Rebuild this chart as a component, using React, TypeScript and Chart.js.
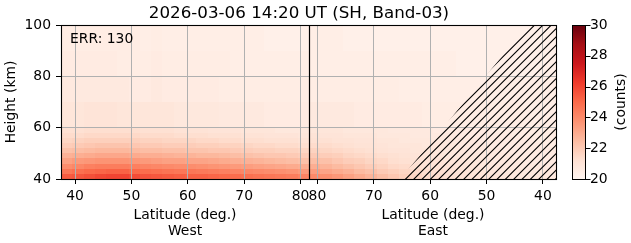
import React, { useEffect, useRef } from "react";
import { Chart, registerables } from "chart.js";

Chart.register(...registerables);

// ---------- text ----------
const titleText = "2026-03-06 14:20 UT (SH, Band-03)";
const errText = "ERR: 130";
const xAxisLabel = "Latitude (deg.)";
const westLabel = "West";
const eastLabel = "East";
const yAxisLabel = "Height (km)";
const colorbarLabel = "(counts)";

// ---------- axes ----------
const WEST_MIN_LAT = 37.5; // left edge of West panel
const POLE_LAT = 81.5; // West/East junction
const EAST_MIN_LAT = 37.5; // right edge of East panel
const LAT_STEP = 2;
const westTickLabels = [40, 50, 60, 70, 80];
const eastTickLabels = [80, 70, 60, 50, 40];
const heightTicks = [40, 60, 80, 100];
const colorbarTicks = [20, 22, 24, 26, 28, 30];
const COUNT_MIN = 20;
const COUNT_MAX = 30;

// ---------- data (rows from bottom to top) ----------
const heightEdges = [40, 42, 44, 46, 48, 50, 52, 54, 56, 58, 60, 70, 80, 90, 100];
const westLatitudes = [38.5, 40.5, 42.5, 44.5, 46.5, 48.5, 50.5, 52.5, 54.5, 56.5, 58.5, 60.5, 62.5, 64.5, 66.5, 68.5, 70.5, 72.5, 74.5, 76.5, 78.5, 80.5];
const eastLatitudes = [80.5, 78.5, 76.5, 74.5, 72.5, 70.5, 68.5, 66.5, 64.5, 62.5, 60.5, 58.5, 56.5, 54.5, 52.5, 50.5, 48.5, 46.5, 44.5, 42.5, 40.5, 38.5];

const westCounts = [
  [25.4, 25.5, 25.7, 25.9, 26.0, 26.0, 25.8, 25.6, 25.5, 25.4, 25.3, 25.2, 25.2, 25.1, 25.0, 24.9, 24.8, 24.7, 24.6, 24.5, 24.4, 24.2],
  [24.6, 24.8, 25.0, 25.1, 25.2, 25.2, 25.0, 24.9, 24.8, 24.7, 24.6, 24.6, 24.5, 24.4, 24.3, 24.2, 24.1, 24.0, 23.9, 23.8, 23.7, 23.5],
  [23.9, 24.1, 24.3, 24.4, 24.4, 24.4, 24.3, 24.2, 24.1, 24.0, 23.9, 23.9, 23.8, 23.7, 23.6, 23.5, 23.4, 23.3, 23.2, 23.1, 23.0, 22.9],
  [23.3, 23.5, 23.6, 23.7, 23.7, 23.7, 23.6, 23.5, 23.4, 23.3, 23.3, 23.2, 23.2, 23.1, 23.0, 22.9, 22.8, 22.7, 22.6, 22.5, 22.4, 22.3],
  [22.8, 22.9, 23.0, 23.1, 23.1, 23.1, 23.0, 22.9, 22.9, 22.8, 22.7, 22.7, 22.6, 22.6, 22.5, 22.4, 22.3, 22.2, 22.1, 22.1, 22.0, 21.9],
  [22.3, 22.4, 22.5, 22.6, 22.6, 22.6, 22.5, 22.4, 22.4, 22.3, 22.3, 22.2, 22.2, 22.1, 22.1, 22.0, 21.9, 21.8, 21.8, 21.7, 21.7, 21.6],
  [21.9, 22.0, 22.1, 22.2, 22.2, 22.2, 22.1, 22.0, 22.0, 21.9, 21.9, 21.9, 21.8, 21.8, 21.7, 21.7, 21.6, 21.5, 21.5, 21.4, 21.4, 21.3],
  [21.6, 21.7, 21.8, 21.8, 21.8, 21.8, 21.8, 21.7, 21.7, 21.6, 21.6, 21.6, 21.5, 21.5, 21.4, 21.4, 21.3, 21.3, 21.2, 21.2, 21.2, 21.1],
  [21.4, 21.4, 21.5, 21.5, 21.5, 21.5, 21.5, 21.4, 21.4, 21.4, 21.3, 21.3, 21.3, 21.2, 21.2, 21.2, 21.1, 21.1, 21.0, 21.0, 21.0, 20.9],
  [21.2, 21.2, 21.3, 21.3, 21.3, 21.3, 21.3, 21.2, 21.2, 21.2, 21.1, 21.1, 21.1, 21.0, 21.0, 21.0, 20.9, 20.9, 20.9, 20.8, 20.8, 20.8],
  [20.9, 20.9, 21.0, 21.0, 21.0, 20.9, 20.9, 20.9, 20.9, 20.9, 20.8, 20.8, 20.8, 20.8, 20.7, 20.7, 20.7, 20.7, 20.6, 20.6, 20.6, 20.6],
  [20.7, 20.7, 20.7, 20.7, 20.7, 20.7, 20.6, 20.6, 20.7, 20.6, 20.6, 20.6, 20.6, 20.6, 20.5, 20.5, 20.5, 20.5, 20.5, 20.5, 20.5, 20.5],
  [20.6, 20.6, 20.6, 20.6, 20.6, 20.5, 20.5, 20.5, 20.6, 20.5, 20.5, 20.5, 20.5, 20.5, 20.5, 20.4, 20.4, 20.4, 20.4, 20.4, 20.4, 20.4],
  [20.5, 20.5, 20.5, 20.5, 20.5, 20.5, 20.5, 20.4, 20.5, 20.4, 20.4, 20.4, 20.4, 20.4, 20.4, 20.4, 20.4, 20.4, 20.3, 20.3, 20.3, 20.3],
];

const eastCounts = [
  [24.0, 23.8, 23.6, 23.3, 23.0, 22.7, 22.4, 22.1, 21.8, 21.6, 21.4, 21.3, 21.2, 21.1, 21.0, 21.0, 20.9, 20.9, 20.8, 20.8, 20.8, 20.7],
  [23.4, 23.2, 23.0, 22.8, 22.5, 22.3, 22.0, 21.8, 21.6, 21.4, 21.3, 21.2, 21.1, 21.0, 20.9, 20.9, 20.8, 20.8, 20.8, 20.7, 20.7, 20.7],
  [22.9, 22.7, 22.5, 22.3, 22.1, 21.9, 21.7, 21.5, 21.4, 21.2, 21.1, 21.0, 21.0, 20.9, 20.9, 20.8, 20.8, 20.7, 20.7, 20.7, 20.7, 20.6],
  [22.4, 22.3, 22.1, 21.9, 21.8, 21.6, 21.5, 21.3, 21.2, 21.1, 21.0, 21.0, 20.9, 20.9, 20.8, 20.8, 20.7, 20.7, 20.7, 20.6, 20.6, 20.6],
  [22.0, 21.9, 21.8, 21.6, 21.5, 21.4, 21.3, 21.2, 21.1, 21.0, 20.9, 20.9, 20.8, 20.8, 20.8, 20.7, 20.7, 20.7, 20.6, 20.6, 20.6, 20.6],
  [21.7, 21.6, 21.5, 21.4, 21.3, 21.2, 21.1, 21.0, 21.0, 20.9, 20.9, 20.8, 20.8, 20.8, 20.7, 20.7, 20.7, 20.6, 20.6, 20.6, 20.6, 20.6],
  [21.4, 21.4, 21.3, 21.2, 21.1, 21.1, 21.0, 20.9, 20.9, 20.9, 20.8, 20.8, 20.8, 20.7, 20.7, 20.7, 20.6, 20.6, 20.6, 20.6, 20.6, 20.5],
  [21.2, 21.2, 21.1, 21.1, 21.0, 21.0, 20.9, 20.9, 20.8, 20.8, 20.8, 20.7, 20.7, 20.7, 20.7, 20.6, 20.6, 20.6, 20.6, 20.6, 20.5, 20.5],
  [21.1, 21.0, 21.0, 20.9, 20.9, 20.9, 20.8, 20.8, 20.8, 20.7, 20.7, 20.7, 20.7, 20.6, 20.6, 20.6, 20.6, 20.6, 20.5, 20.5, 20.5, 20.5],
  [20.9, 20.9, 20.9, 20.8, 20.8, 20.8, 20.8, 20.7, 20.7, 20.7, 20.7, 20.6, 20.6, 20.6, 20.6, 20.6, 20.5, 20.5, 20.5, 20.5, 20.5, 20.5],
  [20.7, 20.7, 20.7, 20.7, 20.6, 20.6, 20.6, 20.6, 20.6, 20.6, 20.5, 20.5, 20.5, 20.5, 20.5, 20.5, 20.5, 20.5, 20.5, 20.4, 20.4, 20.4],
  [20.5, 20.5, 20.5, 20.5, 20.5, 20.5, 20.5, 20.5, 20.4, 20.4, 20.4, 20.4, 20.4, 20.4, 20.4, 20.4, 20.4, 20.4, 20.4, 20.4, 20.4, 20.4],
  [20.4, 20.4, 20.4, 20.4, 20.4, 20.4, 20.4, 20.4, 20.4, 20.4, 20.4, 20.4, 20.4, 20.3, 20.3, 20.3, 20.3, 20.3, 20.3, 20.3, 20.3, 20.3],
  [20.4, 20.4, 20.4, 20.3, 20.3, 20.3, 20.3, 20.3, 20.3, 20.3, 20.3, 20.3, 20.3, 20.3, 20.3, 20.3, 20.3, 20.3, 20.3, 20.3, 20.3, 20.3],
];

// boundary of the hatched (invalid) region on the East side
const hatchBoundaryLat = [65.3, 57.7, 50.2, 42.6];
const hatchBoundaryHeight = [40, 60, 80, 100];

// ---------- helpers ----------
const westU = (lat: number) => lat - WEST_MIN_LAT;
const eastU = (lat: number) => (POLE_LAT - WEST_MIN_LAT) + (POLE_LAT - lat);
const U_MAX = eastU(EAST_MIN_LAT);
const U_POLE = westU(POLE_LAT);

const REDS = [
  [255, 245, 240], [254, 224, 210], [252, 187, 161], [252, 146, 114],
  [251, 106, 74], [239, 59, 44], [203, 24, 29], [165, 15, 21], [103, 0, 13],
];
function redsColor(t: number): string {
  const tt = Math.max(0, Math.min(1, t)) * (REDS.length - 1);
  const i = Math.min(REDS.length - 2, Math.floor(tt));
  const f = tt - i;
  const a = REDS[i], b = REDS[i + 1];
  const c = a.map((v, k) => Math.round(v + (b[k] - v) * f));
  return `rgb(${c[0]},${c[1]},${c[2]})`;
}

const FONT = "'DejaVu Sans', sans-serif";
const FS = 13.9;

const xTickValues = [...westTickLabels.map(westU), ...eastTickLabels.map(eastU)];
const xTickText = [...westTickLabels, ...eastTickLabels].map(String);

const heatPlugin = {
  id: "heatmapPlugin",
  beforeDraw(chart: any) {
    const { ctx, scales } = chart;
    const x = scales.x, y = scales.y;
    ctx.save();
    ctx.fillStyle = "#ffffff";
    ctx.fillRect(0, 0, chart.width, chart.height);
    const drawSide = (lats: number[], rows: number[][], toU: (l: number) => number) => {
      rows.forEach((row, r) => {
        const T = Math.round(y.getPixelForValue(heightEdges[r + 1]));
        const B = Math.round(y.getPixelForValue(heightEdges[r]));
        row.forEach((v, c) => {
          const u = toU(lats[c]);
          const xa = x.getPixelForValue(u - LAT_STEP / 2);
          const xb = x.getPixelForValue(u + LAT_STEP / 2);
          const L = Math.round(Math.min(xa, xb));
          const R = Math.round(Math.max(xa, xb));
          ctx.fillStyle = redsColor((v - COUNT_MIN) / (COUNT_MAX - COUNT_MIN));
          ctx.fillRect(L, T, R - L, B - T);
        });
      });
    };
    drawSide(westLatitudes, westCounts, westU);
    drawSide(eastLatitudes, eastCounts, eastU);
    ctx.restore();
  },
  afterDraw(chart: any) {
    const { ctx, chartArea, scales } = chart;
    const x = scales.x, y = scales.y, cb = scales.cb;
    const { left, right, top, bottom } = chartArea;
    ctx.save();

    // hatched region
    ctx.save();
    ctx.beginPath();
    hatchBoundaryLat.forEach((lat, i) => {
      const px = x.getPixelForValue(eastU(lat));
      const py = y.getPixelForValue(hatchBoundaryHeight[i]);
      if (i === 0) ctx.moveTo(px, py);
      else ctx.lineTo(px, py);
    });
    ctx.lineTo(x.getPixelForValue(U_MAX), y.getPixelForValue(hatchBoundaryHeight[hatchBoundaryHeight.length - 1]));
    ctx.lineTo(x.getPixelForValue(U_MAX), y.getPixelForValue(hatchBoundaryHeight[0]));
    ctx.closePath();
    ctx.clip();
    ctx.beginPath();
    const spacing = 100 / 12;
    for (let k = -400; k < chart.width + 400; k += spacing) {
      ctx.moveTo(k, chart.height);
      ctx.lineTo(k + chart.height, 0);
    }
    ctx.strokeStyle = "#000";
    ctx.lineWidth = 1.1;
    ctx.stroke();
    ctx.restore();

    // West/East divider
    const px = Math.round(x.getPixelForValue(U_POLE)) + 0.5;
    ctx.beginPath();
    ctx.moveTo(px, top);
    ctx.lineTo(px, bottom);
    ctx.strokeStyle = "#000";
    ctx.lineWidth = 1.2;
    ctx.stroke();

    // frame
    ctx.lineWidth = 1.1;
    ctx.strokeRect(left + 0.5, top + 0.5, right - left - 1, bottom - top);

    // ERR text
    ctx.fillStyle = "#000";
    ctx.font = `${FS}px ${FONT}`;
    ctx.textAlign = "left";
    ctx.textBaseline = "alphabetic";
    ctx.fillText(errText, left + 9, top + 18);

    // title
    ctx.font = `16.7px ${FONT}`;
    ctx.textAlign = "center";
    ctx.fillText(titleText, 299, 17.5);

    // x-axis labels
    ctx.font = `${FS}px ${FONT}`;
    const wc = x.getPixelForValue(U_POLE / 2);
    const ec = x.getPixelForValue((U_POLE + U_MAX) / 2);
    ctx.fillText(xAxisLabel, wc, 218.5);
    ctx.fillText(westLabel, wc, 235);
    ctx.fillText(xAxisLabel, ec, 218.5);
    ctx.fillText(eastLabel, ec, 235);

    // y-axis label
    ctx.save();
    ctx.translate(15, (top + bottom) / 2);
    ctx.rotate(-Math.PI / 2);
    ctx.fillText(yAxisLabel, 0, 0);
    ctx.restore();

    // colorbar
    const cbL = right + 15;
    const cbW = 13;
    const cTop = cb.getPixelForValue(COUNT_MAX);
    const cBot = cb.getPixelForValue(COUNT_MIN);
    const grad = ctx.createLinearGradient(0, cBot, 0, cTop);
    REDS.forEach((c, i) => grad.addColorStop(i / (REDS.length - 1), `rgb(${c[0]},${c[1]},${c[2]})`));
    ctx.fillStyle = grad;
    ctx.fillRect(cbL, cTop, cbW, cBot - cTop);
    ctx.strokeStyle = "#000";
    ctx.lineWidth = 1;
    ctx.strokeRect(cbL + 0.5, cTop + 0.5, cbW, cBot - cTop);
    ctx.beginPath();
    colorbarTicks.forEach((v) => {
      const ty = Math.round(cb.getPixelForValue(v)) + 0.5;
      ctx.moveTo(cbL + cbW + 0.5, ty);
      ctx.lineTo(cbL + cbW + 5.5, ty);
    });
    ctx.stroke();

    // colorbar label
    ctx.save();
    ctx.fillStyle = "#000";
    ctx.font = `${FS}px ${FONT}`;
    ctx.textAlign = "center";
    ctx.translate(625, (top + bottom) / 2);
    ctx.rotate(-Math.PI / 2);
    ctx.fillText(colorbarLabel, 0, 0);
    ctx.restore();

    ctx.restore();
  },
};

export default function App() {
  const canvasRef = useRef<HTMLCanvasElement | null>(null);

  useEffect(() => {
    if (!canvasRef.current) return;
    const tickFont = { family: FONT, size: FS };
    const chart = new Chart(canvasRef.current, {
      type: "scatter",
      data: { datasets: [{ data: [], xAxisID: "x", yAxisID: "y" }] },
      options: {
        animation: false,
        responsive: false,
        events: [],
        layout: { padding: { top: 25, left: 0, right: 0, bottom: 0 } },
        plugins: { legend: { display: false }, tooltip: { enabled: false }, title: { display: false } },
        scales: {
          x: {
            type: "linear",
            min: 0,
            max: U_MAX,
            afterBuildTicks: (scale: any) => {
              scale.ticks = xTickValues.map((v) => ({ value: v }));
            },
            afterFit: (scale: any) => {
              scale.height = 64;
            },
            ticks: {
              autoSkip: false,
              maxRotation: 0,
              minRotation: 0,
              padding: 4,
              color: "#000",
              font: tickFont,
              callback: (_v: any, i: number) => xTickText[i],
            },
            grid: { color: "#b0b0b0", lineWidth: 1, tickColor: "#000", tickLength: 5, tickWidth: 1 },
            border: { display: false },
          },
          y: {
            type: "linear",
            min: heightTicks[0],
            max: heightTicks[heightTicks.length - 1],
            afterBuildTicks: (scale: any) => {
              scale.ticks = heightTicks.map((v) => ({ value: v }));
            },
            afterFit: (scale: any) => {
              scale.width = 61;
            },
            ticks: { padding: 5, color: "#000", font: tickFont },
            grid: { color: "#b0b0b0", lineWidth: 1, tickColor: "#000", tickLength: 5, tickWidth: 1 },
            border: { display: false },
          },
          cb: {
            type: "linear",
            position: "right",
            min: COUNT_MIN,
            max: COUNT_MAX,
            afterBuildTicks: (scale: any) => {
              scale.ticks = colorbarTicks.map((v) => ({ value: v }));
            },
            afterFit: (scale: any) => {
              scale.width = 74;
            },
            ticks: { padding: 1, color: "#000", font: tickFont },
            grid: { drawOnChartArea: false, tickColor: "rgba(0,0,0,0)", tickLength: 32 },
            border: { display: false },
          },
        },
      },
      plugins: [heatPlugin],
    } as any);
    return () => chart.destroy();
  }, []);

  return (
    <div style={{ position: "absolute", left: 0, top: 0, width: 631, height: 243, background: "#fff" }}>
      <canvas ref={canvasRef} width={631} height={243} style={{ display: "block" }} />
    </div>
  );
}
